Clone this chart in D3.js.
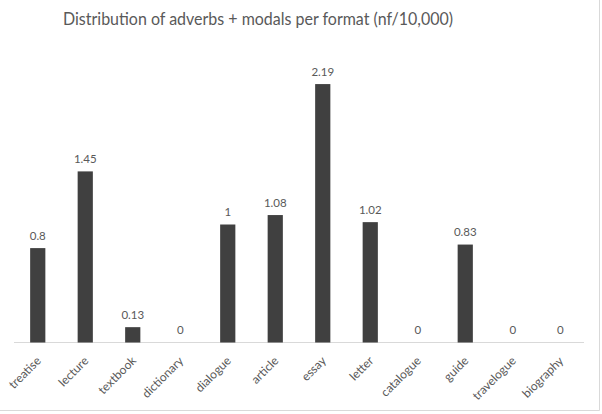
<!DOCTYPE html>
<html><head><meta charset="utf-8">
<script src="https://cdn.jsdelivr.net/npm/d3@7"></script>
<style>body{margin:0;background:#fff;} svg{display:block;}</style>
</head><body>
<svg id="chart" width="602" height="414"></svg>
<script>
const categories = ["treatise","lecture","textbook","dictionary","dialogue","article","essay","letter","catalogue","guide","travelogue","biography"];
const values = [0.8,1.45,0.13,0,1,1.08,2.19,1.02,0,0.83,0,0];
const title = "Distribution of adverbs + modals per format (nf/10,000)";

const svg = d3.select("#chart");
const font = "Lato, 'Open Sans', sans-serif";
const textColor = "#595959";

// outer chart border (right & bottom visible)
svg.append("line").attr("x1",599.5).attr("x2",599.5).attr("y1",0).attr("y2",410.5).attr("stroke","#d9d9d9");
svg.append("line").attr("x1",0).attr("x2",599.5).attr("y1",410.5).attr("y2",410.5).attr("stroke","#d9d9d9");

const x = d3.scaleBand().domain(categories).range([14,584]).paddingInner(0.68).paddingOuter(0.34);
const y = d3.scaleLinear().domain([0,2.5]).range([342.5,47.5]);

svg.append("text").attr("x",258).attr("y",24.5).attr("text-anchor","middle")
  .attr("font-family",font).attr("font-size",17).attr("fill",textColor)
  .attr("textLength",390).attr("lengthAdjust","spacingAndGlyphs").text(title);

// baseline
svg.append("line").attr("x1",14).attr("x2",584).attr("y1",342.5).attr("y2",342.5).attr("stroke","#d9d9d9");

svg.selectAll("rect.bar").data(values).enter().append("rect").attr("class","bar")
  .attr("x",(d,i)=>x(categories[i])).attr("width",x.bandwidth())
  .attr("y",d=>y(d)).attr("height",d=>y(0)-y(d)).attr("fill","#404040");

svg.selectAll("text.val").data(values).enter().append("text").attr("class","val")
  .attr("x",(d,i)=>x(categories[i])+x.bandwidth()/2).attr("y",d=>y(d)-8.5)
  .attr("text-anchor","middle").attr("font-family",font).attr("font-size",11.5)
  .attr("fill",textColor).text(d=>d);

// x axis labels rotated
const ax = svg.append("g").attr("transform","translate(0,342.5)")
  .call(d3.axisBottom(x).tickSize(0).tickPadding(0));
ax.select(".domain").remove();
ax.selectAll(".tick text")
  .attr("font-family",font).attr("font-size",12).attr("fill",textColor)
  .attr("text-anchor","end").attr("dy",0).attr("y",0)
  .attr("transform","translate(4,19) rotate(-45)");
</script>
</body></html>
